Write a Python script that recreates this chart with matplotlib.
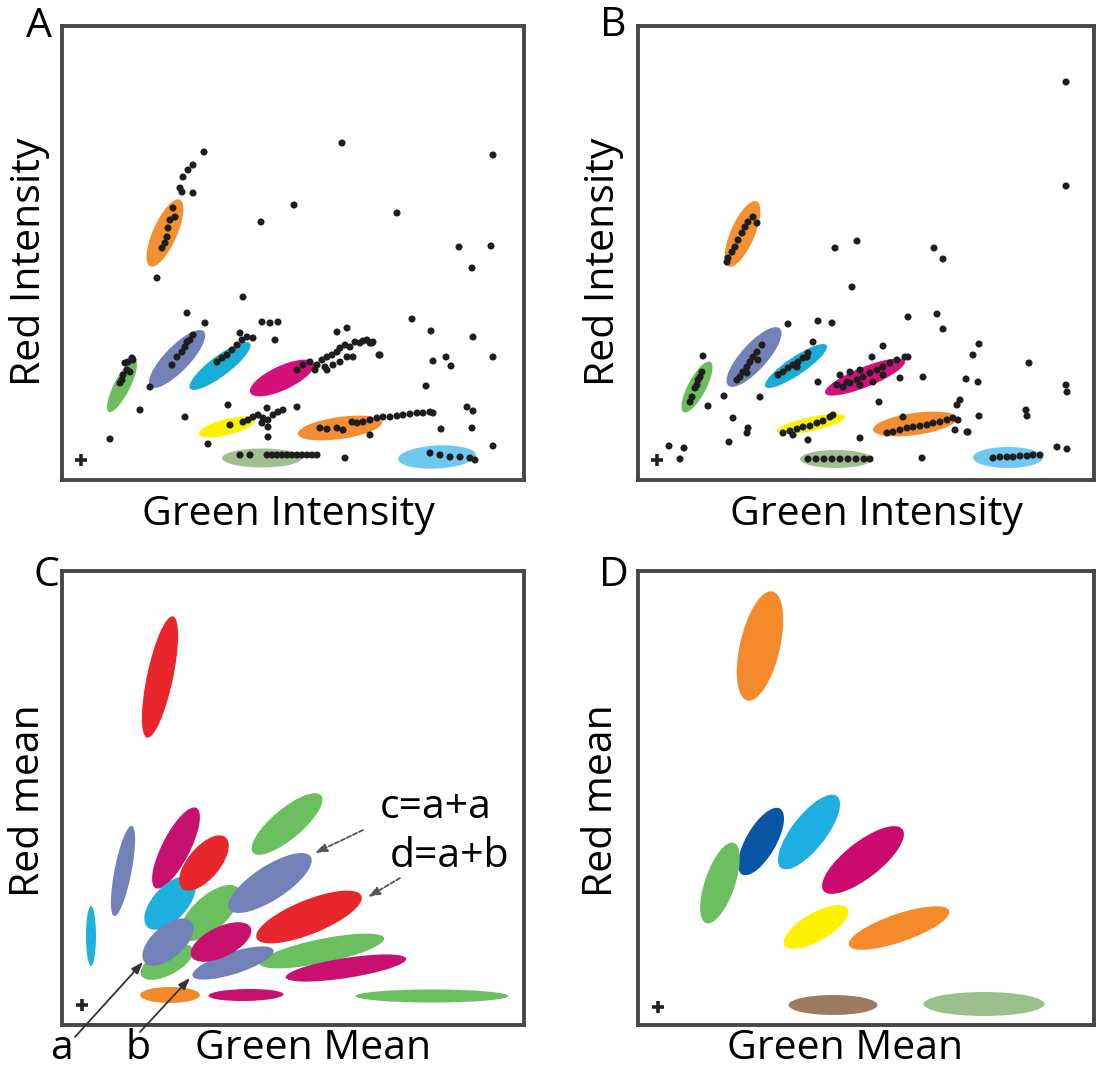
import matplotlib
matplotlib.use("Agg")
import matplotlib.pyplot as plt
from matplotlib.patches import Ellipse

plt.rcParams['font.family'] = ['Open Sans', 'DejaVu Sans']

FW, FH = 1098, 1076

# ---- panel A: green vs red intensity (clusters + spots) ----
a_ell_x = [103, 60, 115, 158, 220, 165, 278, 200, 375]
a_ell_y = [247, 94, 121, 114, 102, 53, 52, 22, 23]
a_ell_len = [73, 58, 77, 75, 70, 58, 85, 80, 78]
a_ell_wid = [24, 16, 25, 20, 24, 16, 22, 19, 23]
a_ell_ang = [66, 63, 46, 37, 25, 14, 8, 0, 3]
a_ell_col = ['#f39031', '#6dbd5f', '#7282b8', '#18acd9', '#d4107a',
             '#fff200', '#f58d32', '#a2bf94', '#6ec8f0']

a_dot_x = [142, 131, 126, 121, 118, 120, 131, 111, 113, 108, 106, 105, 103, 100, 95,
           199, 181, 280, 431, 232, 335, 397, 429, 410, 350, 369, 411, 371, 384, 389,
           431, 317, 364, 405, 411, 379, 410, 431, 308, 166, 235, 206, 146, 283, 78,
           123, 48, 308, 301,
           258, 265, 275, 281, 290, 295, 301, 308, 315, 321, 328, 335, 341, 348, 355,
           361, 368, 371,
           368, 378, 388, 398, 408, 413,
           70, 66, 71, 63, 65, 61, 60, 58, 68,
           143, 131, 128, 123, 120, 115, 110, 125, 88, 125,
           185, 180, 175, 170, 165, 160, 155, 178, 191, 200, 208, 216, 213,
           235, 241, 248, 255, 260, 265, 270, 275, 278, 283, 288, 293, 298, 305, 310,
           285, 278, 271, 265, 291, 275, 285, 318, 311, 263, 253,
           168, 181, 186, 191, 196, 201, 206, 211, 216, 221, 205, 200, 206,
           178, 188, 205, 210, 215, 220, 225, 230, 235, 240, 245, 250, 255]
a_dot_y = [328, 315, 310, 303, 292, 288, 287, 272, 263, 260, 252, 243, 237, 232, 202,
           258, 183, 337, 325, 275, 267, 233, 234, 212, 161, 149, 143, 119, 123, 114,
           123, 125, 94, 73, 69, 51, 52, 34, 45, 75, 73, 43, 36, 22, 70,
           63, 41, 137, 139,
           52, 51, 52, 50, 58, 57, 58, 60, 62, 63, 63, 64, 65, 66, 67,
           67, 68, 67,
           27, 25, 23, 23, 22, 20,
           122, 118, 120, 117, 110, 105, 100, 97, 108,
           157, 145, 140, 133, 128, 123, 115, 138, 93, 167,
           143, 140, 135, 130, 125, 122, 118, 147, 142, 158, 157, 158, 140,
           110, 115, 118, 115, 120, 123, 125, 128, 132, 135, 133, 138, 137, 140, 137,
           123, 118, 115, 110, 123, 148, 152, 125, 138, 113, 110,
           55, 58, 60, 63, 65, 62, 60, 65, 68, 70, 72, 57, 53,
           25, 25, 25, 25, 25, 25, 25, 25, 25, 25, 25, 25, 25]

# ---- panel B ----
b_ell_x = [104.5, 59, 116, 158, 227, 173, 277, 198, 370]
b_ell_y = [246, 93, 123, 114, 103, 56, 56, 21, 22.5]
b_ell_len = [71, 57, 77, 74, 86, 70, 85, 72, 70]
b_ell_wid = [24, 18, 26, 18, 20, 14, 22, 18, 21]
b_ell_ang = [66.6, 62, 48, 34, 22, 12, 8, 0, 0]
b_ell_col = ['#f39031', '#6dbd5f', '#7282b8', '#18acd9', '#d4107a',
             '#fff200', '#f58d32', '#a2bf94', '#6ec8f0']

b_dot_x = [115, 110, 107, 104, 100, 97, 94, 90, 89, 119,
           197, 219, 214, 150, 180, 194, 65, 86, 70, 122, 180, 95, 110, 109, 91,
           170, 222, 31, 46, 42, 296, 305, 270, 299, 305, 341, 335, 285, 262, 328,
           340, 391, 428, 429, 241, 341, 388, 389, 284, 330, 419, 429, 428, 428,
           64, 60, 57, 54, 52, 62, 59,
           124, 119, 115, 112, 109, 105, 102, 99, 120, 109,
           175, 170, 165, 160, 155, 150, 145, 140, 169, 159,
           205, 212, 219, 225, 232, 239, 245, 252, 259, 267, 222, 235, 245, 234,
           245, 270, 202, 212, 222, 199, 209,
           145, 152, 159, 165, 172, 179, 185, 192, 195, 155,
           170, 178, 186, 194, 202, 210, 218, 226, 232,
           249, 255, 262, 269, 275, 282, 289, 295, 302, 309, 315, 319, 322, 317,
           329, 265, 320,
           355, 362, 369, 375, 382, 389, 395, 402]
b_dot_y = [263, 258, 253, 247, 240, 233, 228, 222, 218, 257,
           232, 239, 193, 156, 159, 157, 124, 84, 74, 83, 98, 62, 52, 47, 38,
           40, 42, 34, 32, 21, 232, 221, 163, 166, 151, 136, 125, 103, 102, 101,
           98, 117, 95, 88, 78, 64, 70, 64, 22, 48, 33, 31, 398, 294,
           108, 100, 92, 83, 78, 103, 95,
           135, 128, 123, 118, 113, 108, 103, 100, 120, 107,
           138, 127, 122, 118, 115, 112, 108, 105, 123, 113,
           93, 97, 100, 103, 107, 110, 113, 117, 120, 123, 95, 98, 105, 123,
           134, 123, 105, 108, 110, 95, 98,
           47, 49, 51, 53, 54, 57, 59, 63, 65, 45,
           21, 21, 21, 21, 21, 21, 21, 21, 21,
           47, 48, 50, 52, 53, 54, 55, 57, 58, 60, 62, 75, 80, 50,
           48, 63, 60,
           22, 23, 23, 23, 24, 24, 25, 25]

# ---- panel C: red mean vs green mean (all combinations) ----
c_ell_x = [98, 29, 61, 114, 108, 148, 142, 225, 208, 247, 260, 284, 105, 106,
           171, 159, 108, 184, 370]
c_ell_y = [348, 89, 154, 177, 122, 112, 162, 201, 142, 108, 74, 57, 63, 83,
           62, 83, 30, 30, 29]
c_ell_len = [124, 60, 92, 90, 66, 75, 67, 89, 97, 113, 127, 122, 58, 62,
             85, 66, 60, 75, 153]
c_ell_wid = [26, 10, 17, 28, 34, 34, 32, 30, 34, 34, 24, 20, 26, 32,
             22, 30, 16, 12, 13]
c_ell_ang = [78, 90, 79, 63, 47, 42, 50, 40, 33, 22, 11.6, 8.8, 28, 41,
             17.6, 26, 0, 1, 0]
c_ell_col = ['#e8262b', '#1fb1dd', '#7282b8', '#c8106e', '#1fb1dd', '#6abf5f',
             '#e8262b', '#6abf5f', '#7282b8', '#e8262b', '#6abf5f', '#c8106e',
             '#6abf5f', '#7282b8', '#7282b8', '#c8106e', '#f28a2a', '#c8106e',
             '#6abf5f']

# arrows: (tail, tip) in panel-C units
c_arrow_lbl = ['a', 'b', 'c=a+a', 'd=a+b']
c_arrow_tail = [(13, -12), (78, -7), (301, 195), (338, 147)]
c_arrow_tip = [(81, 63), (128, 47), (253, 172), (306, 128)]

# ---- panel D: single-colour means ----
d_ell_x = [122, 123, 171, 82, 225, 178, 261, 195, 346]
d_ell_y = [379, 183.5, 193, 142, 165, 98, 97, 20, 21]
d_ell_len = [112, 76, 91, 85, 100, 73, 106, 89, 121]
d_ell_wid = [40, 30, 34, 30, 36, 28, 28, 20, 24]
d_ell_ang = [77, 60, 52, 71, 38, 30, 19, 0, 0]
d_ell_col = ['#f48a2b', '#0b55a5', '#1eaee0', '#6bbf5e', '#cc0a6e',
             '#fff200', '#f48a2b', '#9b7b62', '#9cbf8e']

cross_xy = {'A': (19, 20), 'B': (19, 20), 'C': (20, 20), 'D': (20, 18)}

# panel boxes in pixels: left, top, right, bottom
boxes = {'A': (62, 26, 524, 480), 'B': (638, 26, 1094, 480),
         'C': (62, 571, 524, 1025), 'D': (638, 571, 1094, 1025)}

fig = plt.figure(figsize=(FW / 100, FH / 100), dpi=100)


def fpos(x, y):
    return x / FW, 1 - y / FH


def make_ax(key):
    l, t, r, b = boxes[key]
    ax = fig.add_axes([l / FW, 1 - b / FH, (r - l) / FW, (b - t) / FH])
    ax.set_xlim(0, r - l)
    ax.set_ylim(0, b - t)
    ax.set_xticks([])
    ax.set_yticks([])
    for s in ax.spines.values():
        s.set_color('#474747')
        s.set_linewidth(2.8)
    cx, cy = cross_xy[key]
    ax.plot(cx, cy, marker='+', ms=9, mew=2.6, color='#222222', zorder=4)
    return ax


def draw_ellipses(ax, xs, ys, lens, wids, angs, cols):
    for x, y, ln, w, a, c in zip(xs, ys, lens, wids, angs, cols):
        ax.add_patch(Ellipse((x, y), ln, w, angle=a, facecolor=c,
                             edgecolor='none', zorder=2))


axA = make_ax('A')
draw_ellipses(axA, a_ell_x, a_ell_y, a_ell_len, a_ell_wid, a_ell_ang, a_ell_col)
axA.scatter(a_dot_x, a_dot_y, s=26, color='#1e1e1e', edgecolors='none', zorder=3)

axB = make_ax('B')
draw_ellipses(axB, b_ell_x, b_ell_y, b_ell_len, b_ell_wid, b_ell_ang, b_ell_col)
axB.scatter(b_dot_x, b_dot_y, s=26, color='#1e1e1e', edgecolors='none', zorder=3)

fs = 29.5

axC = make_ax('C')
draw_ellipses(axC, c_ell_x, c_ell_y, c_ell_len, c_ell_wid, c_ell_ang, c_ell_col)
for i, (tail, tip) in enumerate(zip(c_arrow_tail, c_arrow_tip)):
    ls = '-' if i < 2 else (0, (2.5, 1.2))
    col = '#333333' if i < 2 else '#555555'
    axC.annotate('', xy=tip, xytext=tail, annotation_clip=False,
                 arrowprops=dict(arrowstyle='-|>,head_length=0.7,head_width=0.25',
                                 color=col, lw=1.3, linestyle=ls,
                                 shrinkA=0, shrinkB=0), zorder=5)
axC.text(374, 217, c_arrow_lbl[2], fontsize=fs, ha='center', va='center')
axC.text(388, 168, c_arrow_lbl[3], fontsize=fs, ha='center', va='center')

axD = make_ax('D')
draw_ellipses(axD, d_ell_x, d_ell_y, d_ell_len, d_ell_wid, d_ell_ang, d_ell_col)

txt = [('A', 39, 27), ('B', 613, 26), ('C', 46, 576), ('D', 614, 576),
       ('Green Intensity', 288, 515), ('Green Intensity', 876, 515),
       ('Green Mean', 313, 1049), ('Green Mean', 845, 1049),
       (c_arrow_lbl[0], 62, 1049), (c_arrow_lbl[1], 138, 1049)]
for s, x, y in txt:
    fig.text(*fpos(x, y), s, fontsize=fs, ha='center', va='center')
for s, x, y in [('Red Intensity', 30, 262), ('Red Intensity', 603, 262),
                ('Red mean', 29, 801), ('Red mean', 602, 801)]:
    fig.text(*fpos(x, y), s, fontsize=fs, ha='center', va='center', rotation=90)

fig.savefig('out.png', dpi=100, facecolor='white')
